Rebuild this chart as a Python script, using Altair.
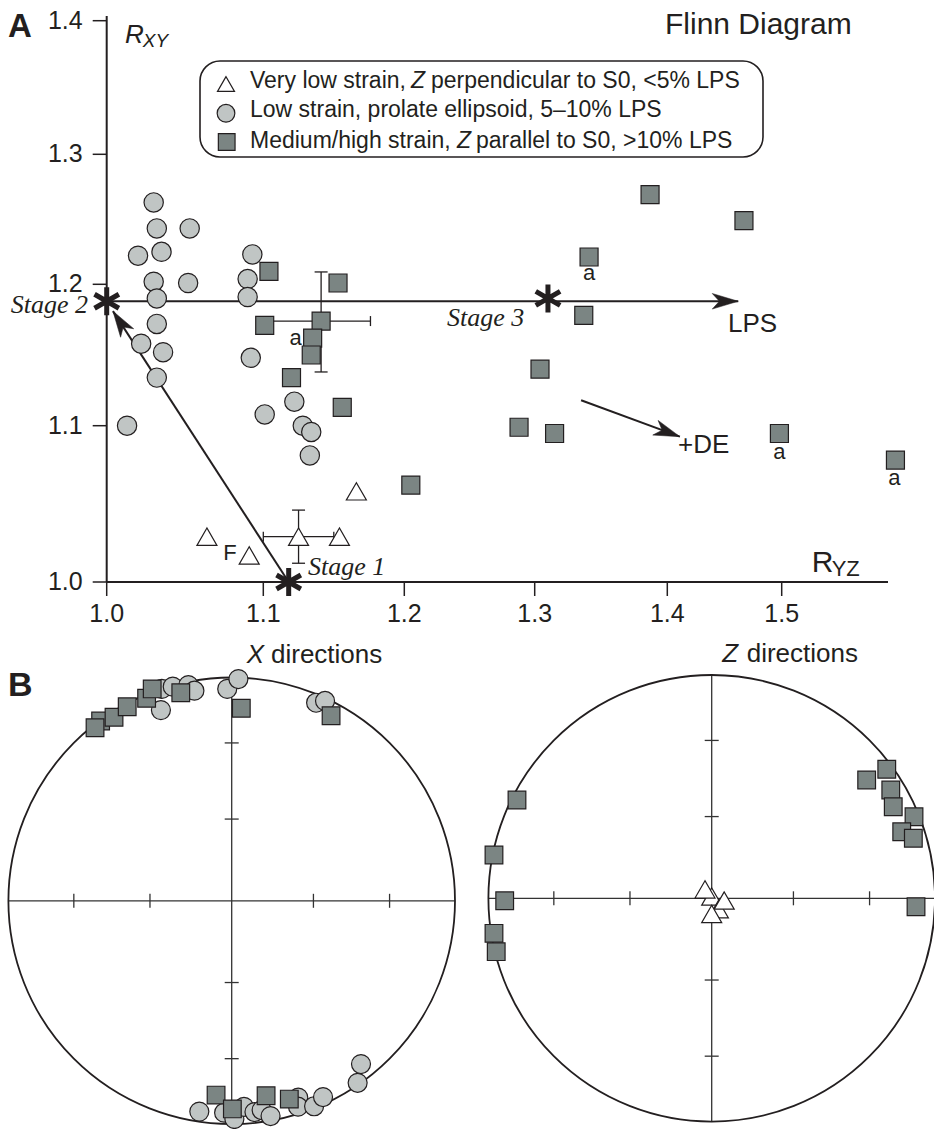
import altair as alt
import pandas as pd

INK = "#231f20"
SQ_FILL = "#7b8583"
CI_FILL = "#c0c5c4"
SANS = "Liberation Sans"
SERIF = "Liberation Serif"

# ---------------- Panel A : Flinn diagram data ----------------
tri_x = [1.166, 1.064, 1.125, 1.154, 1.091]
tri_y = [1.058, 1.029, 1.029, 1.029, 1.017]

circ_x = [1.030, 1.032, 1.053, 1.020, 1.035, 1.093, 1.030, 1.052, 1.090, 1.032,
          1.090, 1.032, 1.022, 1.036, 1.032, 1.092, 1.013, 1.101, 1.122, 1.128,
          1.134, 1.133]
circ_y = [1.263, 1.243, 1.243, 1.222, 1.225, 1.223, 1.202, 1.201, 1.204, 1.190,
          1.191, 1.172, 1.158, 1.152, 1.134, 1.148, 1.100, 1.108, 1.117, 1.100,
          1.096, 1.081]

sq_x = [1.104, 1.153, 1.141, 1.101, 1.135, 1.134, 1.120, 1.156, 1.205, 1.337,
        1.304, 1.288, 1.315, 1.498, 1.607, 1.387, 1.467, 1.341]
sq_y = [1.210, 1.201, 1.174, 1.171, 1.162, 1.150, 1.134, 1.113, 1.062, 1.178,
        1.140, 1.099, 1.095, 1.095, 1.078, 1.269, 1.249, 1.221]

# error bars on the two mean values (square and triangle)
err_x = [1.141, 1.125]
err_y = [1.174, 1.029]
err_x_lo = [1.100, 1.100]
err_x_hi = [1.176, 1.150]
err_y_lo = [1.138, 1.012]
err_y_hi = [1.2095, 1.046]

# strain path stages and arrows
star_x = [1.0, 1.118, 1.310]
star_y = [1.188, 1.0, 1.190]
path_x1 = [1.0, 1.118, 1.335]
path_y1 = [1.188, 1.0, 1.118]
path_x2 = [1.462, 1.004, 1.411]
path_y2 = [1.188, 1.181, 1.093]
head_angle = [90, 327, 110]

# "a" sample labels
a_x = [1.123, 1.341, 1.498, 1.606]
a_y = [1.157, 1.2033, 1.0785, 1.0621]

# axis ticks
X_TICKS = [1.0, 1.1, 1.2, 1.3, 1.4, 1.5]
X_TICK_LABELS = ["1.0", "1.1", "1.2", "1.3", "1.4", "1.5"]
Y_TICKS = [1.0, 1.1, 1.2, 1.3, 1.4]
Y_TICK_LABELS = ["1.0", "1.1", "1.2", "1.3", "1.4"]
X_END = 1.6
Y_END = 1.405

# ---------------- Panel B : stereonets (equal-area, unit radius) ----------------
xnet_circ_u = [-0.313, -0.264, -0.194, -0.167, -0.317, -0.020, 0.030, 0.378, 0.418,
               -0.145, -0.034, 0.012, 0.055, 0.102, 0.134, 0.174, 0.298, 0.297,
               0.369, 0.409, 0.564, 0.579]
xnet_circ_v = [0.949, 0.959, 0.966, 0.941, 0.854, 0.949, 0.993, 0.887, 0.895,
               -0.944, -0.949, -0.977, -0.923, -0.946, -0.937, -0.964, -0.881, -0.922,
               -0.920, -0.879, -0.815, -0.731]
xnet_sq_u = [-0.587, -0.527, -0.612, -0.468, -0.381, -0.356, -0.228, 0.043, 0.445,
             -0.070, 0.003, 0.154, 0.258]
xnet_sq_v = [0.805, 0.822, 0.775, 0.869, 0.907, 0.949, 0.932, 0.862, 0.829,
             -0.870, -0.932, -0.873, -0.888]

znet_sq_u = [0.694, 0.784, 0.802, 0.813, 0.906, 0.851, 0.903, 0.915,
             -0.872, -0.975, -0.927, -0.975, -0.965]
znet_sq_v = [0.530, 0.578, 0.485, 0.410, 0.365, 0.298, 0.269, -0.038,
             0.440, 0.194, -0.011, -0.157, -0.239]
znet_tri_u = [0.0, 0.030, 0.056, -0.030, 0.0]
znet_tri_v = [0.008, -0.049, -0.010, 0.040, -0.070]

net_tick_pos = [-0.707, -0.366, 0.366, 0.707]

# ---------------- scales ----------------
XS = alt.Scale(domain=[1.0, 1.1, 1.2, 1.3, 1.4, 1.5, 1.6],
               range=[106.7, 263.3, 404.3, 534.7, 667.3, 781.7, 888.0],
               nice=False, zero=False)
YS = alt.Scale(domain=[1.0, 1.1, 1.2, 1.3, 1.4, 1.405],
               range=[582.0, 425.7, 284.3, 154.3, 20.7, 16.0],
               nice=False, zero=False)

NX1 = alt.Scale(domain=[-1, 1], range=[8.4, 455.0], nice=False, zero=False)
NY1 = alt.Scale(domain=[-1, 1], range=[1124.1, 677.5], nice=False, zero=False)
NX2 = alt.Scale(domain=[-1, 1], range=[488.4, 935.0], nice=False, zero=False)
NY2 = alt.Scale(domain=[-1, 1], range=[1121.6, 675.0], nice=False, zero=False)

ARROW = "M0,0L0.6,2L0,1.45L-0.6,2Z"
STAR = "M0,-1L0,1M-0.87,-0.5L0.87,0.5M-0.87,0.5L0.87,-0.5"


def tx(f):
    return alt.X(f, type="quantitative", scale=XS, axis=None)


def ty(f):
    return alt.Y(f, type="quantitative", scale=YS, axis=None)


def top_points(xs, ys, shape, size, fill):
    df = pd.DataFrame({"x": xs, "y": ys})
    return alt.Chart(df).mark_point(
        shape=shape, size=size, filled=True, fill=fill, stroke=INK,
        strokeWidth=1.2, opacity=1
    ).encode(x=tx("x"), y=ty("y"))


def data_text(texts, xs, ys, size, align="left", font=SANS, style="normal",
              weight="normal", baseline="alphabetic", dx=0, dy=0):
    df = pd.DataFrame({"x": xs, "y": ys, "t": texts})
    return alt.Chart(df).mark_text(
        align=align, baseline=baseline, font=font, fontSize=size,
        fontStyle=style, fontWeight=weight, color=INK, dx=dx, dy=dy
    ).encode(x=tx("x"), y=ty("y"), text="t:N")


one = pd.DataFrame({"k": [0]})


def pix_text(text, px, py, size, align="left", font=SANS, style="normal",
             weight="normal"):
    return alt.Chart(one).mark_text(
        text=text, align=align, baseline="alphabetic", font=font, fontSize=size,
        fontStyle=style, fontWeight=weight, color=INK
    ).encode(x=alt.value(px), y=alt.value(py))


# ---------------- Panel A axes (drawn from the tick arrays through the scales) ----
axis_lines = alt.Chart(pd.DataFrame({
    "x1": [X_TICKS[0], X_TICKS[0]], "x2": [X_END, X_TICKS[0]],
    "y1": [Y_TICKS[0], Y_TICKS[0]], "y2": [Y_TICKS[0], Y_END]})).mark_rule(
    color=INK, strokeWidth=2).encode(x=tx("x1"), x2="x2", y=ty("y1"), y2="y2")

xt_df = pd.DataFrame({"x": X_TICKS, "y": [Y_TICKS[0]] * len(X_TICKS), "t": X_TICK_LABELS})
yt_df = pd.DataFrame({"x": [X_TICKS[0]] * len(Y_TICKS), "y": Y_TICKS, "t": Y_TICK_LABELS})
x_ticks = alt.Chart(xt_df).mark_tick(orient="vertical", size=14, thickness=1.5,
                                     yOffset=7, color=INK, opacity=1).encode(
    x=tx("x"), y=ty("y"))
y_ticks = alt.Chart(yt_df).mark_tick(orient="horizontal", size=14, thickness=1.5,
                                     xOffset=-7, color=INK, opacity=1).encode(
    x=tx("x"), y=ty("y"))
x_labels = alt.Chart(xt_df).mark_text(align="center", baseline="top", dy=20,
                                      font=SANS, fontSize=25, color=INK).encode(
    x=tx("x"), y=ty("y"), text="t:N")
y_labels = alt.Chart(yt_df).mark_text(align="right", baseline="middle", dx=-24,
                                      font=SANS, fontSize=25, color=INK).encode(
    x=tx("x"), y=ty("y"), text="t:N")

# ---------------- Panel A layers ----------------
err_df = pd.DataFrame({"x": err_x, "y": err_y, "xlo": err_x_lo, "xhi": err_x_hi,
                       "ylo": err_y_lo, "yhi": err_y_hi})
err_h = alt.Chart(err_df).mark_rule(color=INK, strokeWidth=1.3).encode(
    x=tx("xlo"), x2="xhi", y=ty("y"))
err_v = alt.Chart(err_df).mark_rule(color=INK, strokeWidth=1.3).encode(
    x=tx("x"), y=ty("ylo"), y2="yhi")
cap_v_lo = alt.Chart(err_df).mark_tick(orient="horizontal", size=13, thickness=1.3,
                                       color=INK, opacity=1).encode(x=tx("x"), y=ty("ylo"))
cap_v_hi = alt.Chart(err_df).mark_tick(orient="horizontal", size=13, thickness=1.3,
                                       color=INK, opacity=1).encode(x=tx("x"), y=ty("yhi"))
cap_h_lo = alt.Chart(err_df).mark_tick(orient="vertical", size=10, thickness=1.3,
                                       color=INK, opacity=1).encode(x=tx("xlo"), y=ty("y"))
cap_h_hi = alt.Chart(err_df).mark_tick(orient="vertical", size=10, thickness=1.3,
                                       color=INK, opacity=1).encode(x=tx("xhi"), y=ty("y"))

path_df = pd.DataFrame({"x1": path_x1, "y1": path_y1, "x2": path_x2, "y2": path_y2,
                        "ang": head_angle})
paths = alt.Chart(path_df).mark_rule(color=INK, strokeWidth=2).encode(
    x=tx("x1"), x2="x2", y=ty("y1"), y2="y2")
heads = alt.Chart(path_df).mark_point(
    shape=ARROW, size=676, filled=True, fill=INK, stroke=INK, strokeWidth=0.5, opacity=1
).encode(x=tx("x2"), y=ty("y2"), angle=alt.Angle("ang:Q", scale=None))

stars = alt.Chart(pd.DataFrame({"x": star_x, "y": star_y})).mark_point(
    shape=STAR, size=784, filled=False, color=INK, stroke=INK, strokeWidth=5, opacity=1
).encode(x=tx("x"), y=ty("y"))

circles_A = top_points(circ_x, circ_y, "circle", 372, CI_FILL)
squares_A = top_points(sq_x, sq_y, "square", 324, SQ_FILL)
triangles_A = top_points(tri_x, tri_y, "triangle-up", 400, "white")

a_labels = data_text(["a"] * len(a_x), a_x, a_y, 22, align="center")
stage2 = data_text(["Stage 2"], [1.0], [1.1795], 26, align="right", font=SERIF,
                   style="italic", dx=-18.7)
stage31 = data_text(["Stage 3", "Stage 1"], [1.2327, 1.1317], [1.1705, 1.0045], 26,
                    font=SERIF, style="italic")
lps_de = data_text(["LPS", "+DE"], [1.4531, 1.4094], [1.1665, 1.0827], 26)
f_lab = data_text(["F"], [1.0787], [1.0186], 22, align="center", baseline="middle")
r_xy = data_text(["R"], [1.0117], [1.3835], 26, style="italic")
r_xy_sub = data_text(["XY"], [1.0230], [1.3803], 19, style="italic")
r_yz = data_text(["R"], [1.5282], [1.0062], 30)
r_yz_sub = data_text(["YZ"], [1.547], [1.0038], 22)

# legend box (custom, with italic Z)
legend_box = alt.Chart(one).mark_rect(
    cornerRadius=20, fill="white", stroke=INK, strokeWidth=1.6
).encode(x=alt.value(200), x2=alt.value(763), y=alt.value(61), y2=alt.value(157))


def legend_sym(shape, size, fill, px, py):
    return alt.Chart(one).mark_point(
        shape=shape, size=size, filled=True, fill=fill, stroke=INK, strokeWidth=1.2,
        opacity=1).encode(x=alt.value(px), y=alt.value(py))


leg = [
    legend_box,
    legend_sym("triangle-up", 289, "white", 226, 84),
    legend_sym("circle", 313, CI_FILL, 226, 113.3),
    legend_sym("square", 279, SQ_FILL, 226.7, 142),
    pix_text("Very low strain,", 250, 88.3, 23),
    pix_text("Z", 411, 88.3, 23, style="italic"),
    pix_text("perpendicular to S0, <5% LPS", 431, 88.3, 23),
    pix_text("Low strain, prolate ellipsoid, 5\u201310% LPS", 250, 117.3, 23),
    pix_text("Medium/high strain,", 250, 148.3, 23),
    pix_text("Z", 457, 148.3, 23, style="italic"),
    pix_text("parallel to S0, >10% LPS", 476, 148.3, 23),
]

titles = [
    pix_text("A", 8, 37, 33, weight="bold"),
    pix_text("Flinn Diagram", 665, 34.3, 30),
    pix_text("B", 8, 696, 34, weight="bold"),
    pix_text("X", 246.7, 663, 26, style="italic"),
    pix_text("directions", 271, 663, 26),
    pix_text("Z", 722.3, 662, 26, style="italic"),
    pix_text("directions", 746.7, 662, 26),
]

top = alt.layer(
    axis_lines, x_ticks, y_ticks, x_labels, y_labels,
    err_h, err_v, cap_v_lo, cap_v_hi, cap_h_lo, cap_h_hi, paths,
    circles_A, squares_A, triangles_A, heads, stars,
    a_labels, stage2, stage31, lps_de, f_lab, r_xy, r_xy_sub, r_yz, r_yz_sub,
    *leg, *titles
)


# ---------------- Panel B layers ----------------
def net(NX, NY, circ_u, circ_v, sq_u, sq_v, tri_u, tri_v):
    def nx(f):
        return alt.X(f, type="quantitative", scale=NX, axis=None)

    def ny(f):
        return alt.Y(f, type="quantitative", scale=NY, axis=None)

    outline = alt.Chart(pd.DataFrame({"u": [0.0], "v": [0.0]})).mark_point(
        shape="circle", size=446.6 ** 2, filled=False, color=INK, stroke=INK,
        strokeWidth=1.8, opacity=1).encode(x=nx("u"), y=ny("v"))
    cross = alt.Chart(pd.DataFrame({"u1": [-1.0, 0.0], "u2": [1.0, 0.0],
                                    "v1": [0.0, -1.0], "v2": [0.0, 1.0]})).mark_rule(
        color="#333333", strokeWidth=1.3).encode(x=nx("u1"), x2="u2", y=ny("v1"), y2="v2")
    tick_df = pd.DataFrame({"p": net_tick_pos, "z": [0.0] * len(net_tick_pos)})
    tick_h = alt.Chart(tick_df).mark_tick(orient="vertical", size=14, thickness=1.3,
                                          color="#333333", opacity=1).encode(
        x=nx("p"), y=ny("z"))
    tick_v = alt.Chart(tick_df).mark_tick(orient="horizontal", size=14, thickness=1.3,
                                          color="#333333", opacity=1).encode(
        x=nx("z"), y=ny("p"))
    layers = [cross, tick_h, tick_v, outline]

    def pts(us, vs, shape, size, fill):
        return alt.Chart(pd.DataFrame({"u": us, "v": vs})).mark_point(
            shape=shape, size=size, filled=True, fill=fill, stroke=INK,
            strokeWidth=1.2, opacity=1).encode(x=nx("u"), y=ny("v"))

    if circ_u:
        layers.append(pts(circ_u, circ_v, "circle", 361, CI_FILL))
    if sq_u:
        layers.append(pts(sq_u, sq_v, "square", 313, SQ_FILL))
    if tri_u:
        layers.append(pts(tri_u, tri_v, "triangle-up", 400, "white"))
    return alt.layer(*layers)


net_x = net(NX1, NY1, xnet_circ_u, xnet_circ_v, xnet_sq_u, xnet_sq_v, [], [])
net_z = net(NX2, NY2, [], [], znet_sq_u, znet_sq_v, znet_tri_u, znet_tri_v)

chart = alt.layer(top, net_x, net_z).resolve_scale(
    x="independent", y="independent"
).properties(
    width=934, height=1129, padding=0,
    autosize=alt.AutoSizeParams(type="none"),
    background="white",
).configure_view(stroke=None)

chart.save("out.html", embed_options={"renderer": "svg", "actions": False})
